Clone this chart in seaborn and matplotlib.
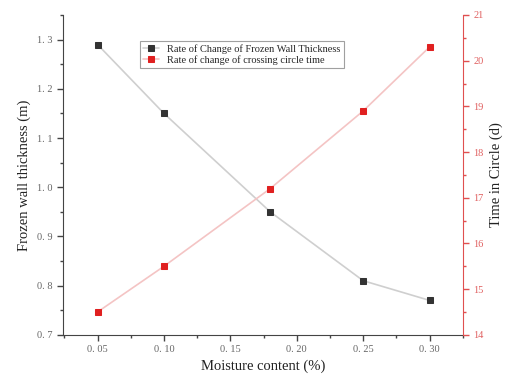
import matplotlib
matplotlib.use("Agg")
import matplotlib.pyplot as plt
import seaborn as sns
import pandas as pd
from matplotlib.ticker import MultipleLocator

# === Data ===
moisture = [0.05, 0.10, 0.18, 0.25, 0.30]
thickness = [1.29, 1.15, 0.95, 0.81, 0.77]
circle_time = [14.5, 15.5, 17.2, 18.9, 20.3]

x_ticks = [0.05, 0.10, 0.15, 0.20, 0.25, 0.30]
x_tick_labels = ["0. 05", "0. 10", "0. 15", "0. 20", "0. 25", "0. 30"]
left_ticks = [0.7, 0.8, 0.9, 1.0, 1.1, 1.2, 1.3]
left_tick_labels = ["0. 7", "0. 8", "0. 9", "1. 0", "1. 1", "1. 2", "1. 3"]
right_ticks = [14, 15, 16, 17, 18, 19, 20, 21]

df = pd.DataFrame({"Moisture": moisture, "Thickness": thickness, "Time": circle_time})

sns.set_style("white")
plt.rcParams["font.family"] = ["Liberation Serif", "DejaVu Serif"]

fig = plt.figure(figsize=(5.08, 3.84), dpi=100)
ax = fig.add_axes([0.124, 0.128, 0.787, 0.833])
ax2 = ax.twinx()

sns.lineplot(data=df, x="Moisture", y="Thickness", ax=ax, color="#cfcfcf", lw=1.2,
             marker="s", markersize=5, markerfacecolor="#333333", markeredgecolor="#333333",
             label="Rate of Change of Frozen Wall Thickness", legend=False)
sns.lineplot(data=df, x="Moisture", y="Time", ax=ax2, color="#f4c4c4", lw=1.2,
             marker="s", markersize=5, markerfacecolor="#e02020", markeredgecolor="#e02020",
             label="Rate of change of crossing circle time", legend=False)

ax.set_xlim(0.024, 0.325)
ax.set_ylim(0.7, 1.35)
ax2.set_ylim(14, 21)

ax.set_xticks(x_ticks)
ax.set_xticklabels(x_tick_labels)
ax.set_yticks(left_ticks)
ax.set_yticklabels(left_tick_labels)
ax2.set_yticks(right_ticks)
ax.xaxis.set_minor_locator(MultipleLocator(0.025))
ax.yaxis.set_minor_locator(MultipleLocator(0.05))
ax2.yaxis.set_minor_locator(MultipleLocator(0.5))

ax.set_xlabel("Moisture content (%)", fontsize=10.5, color="#222222")
ax.set_ylabel("Frozen wall thickness (m)", fontsize=10.5, color="#222222")
ax2.set_ylabel("Time in Circle (d)", fontsize=10.5, color="#222222")

for a in (ax, ax2):
    a.spines["top"].set_visible(False)
ax.spines["right"].set_visible(False)
ax2.spines["left"].set_visible(False)
ax2.spines["bottom"].set_visible(False)
ax.spines["left"].set_color("#444444")
ax.spines["bottom"].set_color("#444444")
ax2.spines["right"].set_color("#e05050")

ax.tick_params(axis="both", which="major", direction="out", length=4, width=1,
               color="#444444", labelsize=7.5, labelcolor="#666666",
               bottom=True, left=True)
ax.tick_params(axis="both", which="minor", direction="out", length=2, width=1,
               color="#444444", bottom=True, left=True)
ax2.tick_params(axis="y", which="major", direction="out", length=4, width=1,
                color="#e05050", labelsize=7.5, labelcolor="#e06060", right=True)
ax2.tick_params(axis="y", which="minor", direction="out", length=2, width=1,
                color="#e05050", right=True)

h1, l1 = ax.get_legend_handles_labels()
h2, l2 = ax2.get_legend_handles_labels()
leg = ax.legend(h1 + h2, l1 + l2, loc="upper left", bbox_to_anchor=(0.18, 0.935),
                fontsize=7.5, frameon=True, fancybox=False, handlelength=1.5,
                borderpad=0.3, labelspacing=0.15)
leg.get_frame().set_edgecolor("#888888")
leg.get_frame().set_linewidth(0.8)

fig.savefig("out.png", dpi=100)
